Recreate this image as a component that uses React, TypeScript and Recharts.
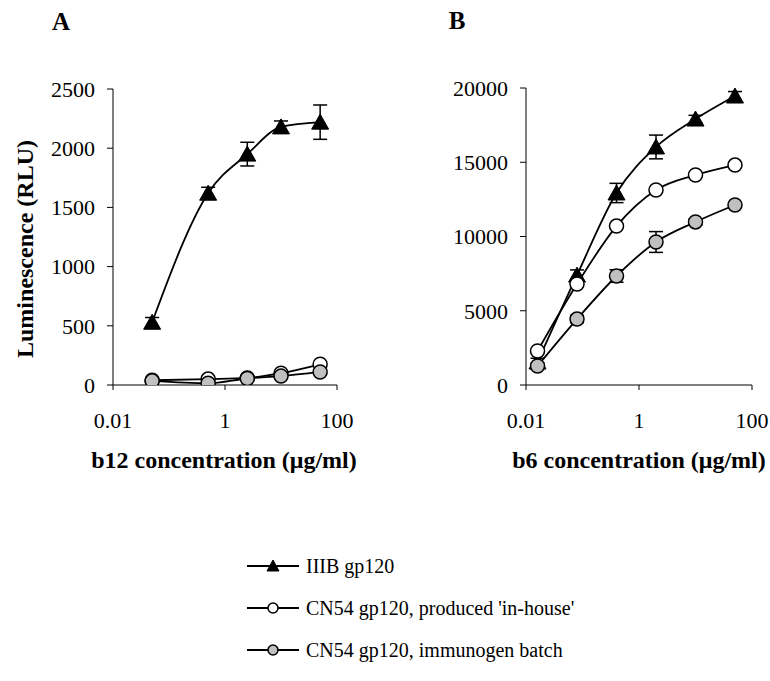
import React from "react";
import { LineChart, Line, XAxis, YAxis, ErrorBar } from "recharts";

// ---------- data ----------
const concA = [0.05, 0.5, 2.5, 10, 50];
const iiibA = [530, 1620, 1950, 2180, 2220];
const iiibAErr = [40, 50, 100, 50, 145];
const inhouseA = [40, 50, 60, 100, 175];
const inhouseAErr = [10, 10, 10, 15, 20];
const immunoA = [35, 15, 55, 75, 110];
const immunoAErr = [10, 10, 10, 10, 15];

const concB = [0.016, 0.08, 0.4, 2, 10, 50];
const iiibB = [1550, 7400, 12930, 16030, 17910, 19460];
const iiibBErr = [250, 350, 650, 800, 250, 300];
const inhouseB = [2290, 6800, 10700, 13130, 14140, 14810];
const inhouseBErr = [100, 100, 100, 100, 100, 100];
const immunoB = [1280, 4440, 7340, 9630, 10980, 12120];
const immunoBErr = [200, 250, 420, 700, 200, 150];

const xTicks = [0.01, 1, 100];
const yTicksA = [0, 500, 1000, 1500, 2000, 2500];
const yTicksB = [0, 5000, 10000, 15000, 20000];

const seriesNames = [
  "IIIB gp120",
  "CN54 gp120, produced 'in-house'",
  "CN54 gp120, immunogen batch",
];

const dataA = concA.map((c, i) => ({
  conc: c,
  iiib: iiibA[i],
  iiibErr: iiibAErr[i],
  inhouse: inhouseA[i],
  inhouseErr: inhouseAErr[i],
  immuno: immunoA[i],
  immunoErr: immunoAErr[i],
}));
const dataB = concB.map((c, i) => ({
  conc: c,
  iiib: iiibB[i],
  iiibErr: iiibBErr[i],
  inhouse: inhouseB[i],
  inhouseErr: inhouseBErr[i],
  immuno: immunoB[i],
  immunoErr: immunoBErr[i],
}));

const FONT = "'Liberation Serif', 'Times New Roman', serif";
const tickStyle = { fontFamily: FONT, fontSize: 22, fill: "#000" };

const Triangle = (props: any) => {
  const { cx, cy, index } = props;
  if (cx == null || cy == null) return <g key={"t" + index} />;
  return (
    <path
      key={"t" + index}
      d={`M${cx},${cy - 8} L${cx + 8.5},${cy + 7} L${cx - 8.5},${cy + 7} Z`}
      fill="#000"
      stroke="#000"
      strokeWidth={1}
    />
  );
};

const makeCircle = (fill: string) => (props: any) => {
  const { cx, cy, index } = props;
  if (cx == null || cy == null) return <g key={"c" + index} />;
  return (
    <circle
      key={"c" + fill + index}
      cx={cx}
      cy={cy}
      r={7}
      fill={fill}
      stroke="#000"
      strokeWidth={1.5}
    />
  );
};
const OpenCircle = makeCircle("#fff");
const GrayCircle = makeCircle("#c0c0c0");

function Panel({ data, yTicks, yMax, margin, yWidth }: any) {
  return (
    <LineChart width={380} height={460} data={data} margin={margin}>
      <XAxis
        dataKey="conc"
        type="number"
        scale="log"
        domain={[0.01, 100]}
        allowDataOverflow
        ticks={xTicks}
        tickFormatter={(v: number) => String(v)}
        tick={tickStyle}
        tickSize={5}
        tickMargin={22}
        stroke="#000"
        height={30}
        interval={0}
      />
      <YAxis
        type="number"
        domain={[0, yMax]}
        allowDataOverflow
        ticks={yTicks}
        tick={tickStyle}
        tickSize={6}
        tickMargin={12}
        stroke="#000"
        width={yWidth}
        interval={0}
      />
      <Line
        dataKey="iiib"
        type="monotone"
        stroke="#000"
        strokeWidth={1.8}
        dot={Triangle}
        activeDot={false}
        isAnimationActive={false}
      >
        <ErrorBar dataKey="iiibErr" width={7} stroke="#000" strokeWidth={1.5} direction="y" />
      </Line>
      <Line
        dataKey="inhouse"
        type="monotone"
        stroke="#000"
        strokeWidth={1.8}
        dot={OpenCircle}
        activeDot={false}
        isAnimationActive={false}
      >
        <ErrorBar dataKey="inhouseErr" width={7} stroke="#000" strokeWidth={1.5} direction="y" />
      </Line>
      <Line
        dataKey="immuno"
        type="monotone"
        stroke="#000"
        strokeWidth={1.8}
        dot={GrayCircle}
        activeDot={false}
        isAnimationActive={false}
      >
        <ErrorBar dataKey="immunoErr" width={7} stroke="#000" strokeWidth={1.5} direction="y" />
      </Line>
    </LineChart>
  );
}

export default function App() {
  return (
    <div
      style={{
        position: "absolute",
        left: 0,
        top: 0,
        width: 770,
        height: 681,
        background: "#fff",
        overflow: "hidden",
      }}
    >
      <svg
        width={770}
        height={681}
        style={{ position: "absolute", left: 0, top: 0 }}
        fontFamily={FONT}
      >
        <text x={61} y={21} fontSize={25} fontWeight="bold" textAnchor="middle" dominantBaseline="central">
          A
        </text>
        <text x={457} y={20} fontSize={25} fontWeight="bold" textAnchor="middle" dominantBaseline="central">
          B
        </text>
        <text
          x={25}
          y={249}
          fontSize={24}
          fontWeight="bold"
          textAnchor="middle"
          dominantBaseline="central"
          transform="rotate(-90 25 249)"
        >
          Luminescence (RLU)
        </text>
        <text x={224} y={460} fontSize={24} fontWeight="bold" textAnchor="middle" dominantBaseline="central">
          b12 concentration (μg/ml)
        </text>
        <text x={639} y={460} fontSize={24} fontWeight="bold" textAnchor="middle" dominantBaseline="central">
          b6 concentration (μg/ml)
        </text>
        {/* legend */}
        {seriesNames.map((name, i) => {
          const y = 566 + i * 42;
          return (
            <g key={name}>
              <line x1={247} x2={299} y1={y} y2={y} stroke="#000" strokeWidth={1.8} />
              {i === 0 ? (
                <path d={`M273,${y - 6} L279,${y + 5} L267,${y + 5} Z`} fill="#000" stroke="#000" />
              ) : (
                <circle cx={273} cy={y} r={5} fill={i === 1 ? "#fff" : "#c0c0c0"} stroke="#000" strokeWidth={1.5} />
              )}
              <text x={306} y={y} fontSize={20} dominantBaseline="central">
                {name}
              </text>
            </g>
          );
        })}
      </svg>
      <div style={{ position: "absolute", left: 0, top: 0 }}>
        <Panel
          data={dataA}
          yTicks={yTicksA}
          yMax={2500}
          yWidth={60}
          margin={{ top: 89, right: 43, left: 53, bottom: 45 }}
        />
      </div>
      <div style={{ position: "absolute", left: 390, top: 0 }}>
        <Panel
          data={dataB}
          yTicks={yTicksB}
          yMax={20000}
          yWidth={70}
          margin={{ top: 88, right: 18, left: 66, bottom: 45 }}
        />
      </div>
    </div>
  );
}
